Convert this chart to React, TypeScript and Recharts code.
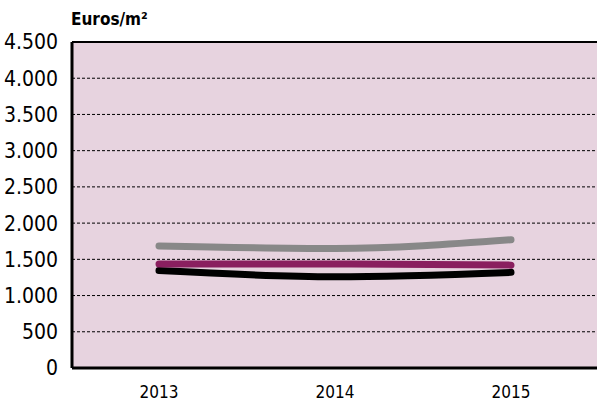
import { CartesianGrid, Line, LineChart, ReferenceLine, XAxis, YAxis } from "recharts";

const years = ["2013", "2014", "2015"];
const grayValues = [1685, 1650, 1770];
const magentaValues = [1435, 1435, 1420];
const blackValues = [1345, 1260, 1320];
const yTicks = [0, 500, 1000, 1500, 2000, 2500, 3000, 3500, 4000, 4500];

const data = years.map((y, i) => ({ year: y, gray: grayValues[i], magenta: magentaValues[i], black: blackValues[i] }));

const font = "'DejaVu Sans Condensed', 'DejaVu Sans', sans-serif";

const fmt = (v: number) => v.toLocaleString("de-DE");

export default function App() {
  return (
    <div
      style={{
        position: "absolute",
        left: 0,
        top: 0,
        width: 597,
        height: 407,
        overflow: "hidden",
        background: "#fff",
        fontFamily: font,
        fontStretch: "condensed",
      }}
    >
      <div style={{ position: "absolute", left: 71, top: 9, fontWeight: 700, fontSize: 17, color: "#000" }}>
        Euros/m²
      </div>
      <LineChart width={600} height={407} data={data} margin={{ top: 42, right: 0, bottom: 0, left: 0 }}>
        <CartesianGrid vertical={false} fill="#e7d3df" stroke="#000" strokeDasharray="3 2" strokeWidth={1} />
        <XAxis
          dataKey="year"
          height={39}
          padding={{ left: 87, right: 89 }}
          tickLine={false}
          axisLine={{ stroke: "#000", strokeWidth: 3 }}
          tick={{ fill: "#000", fontSize: 17 }}
          tickMargin={12}
        />
        <YAxis
          width={72}
          domain={[0, 4500]}
          ticks={yTicks}
          interval={0}
          tickFormatter={fmt}
          tickLine={false}
          axisLine={{ stroke: "#000", strokeWidth: 3 }}
          tick={{ fill: "#000", fontSize: 21 }}
          tickMargin={8}
        />
        <ReferenceLine y={4500} stroke="#000" strokeWidth={2} />
        <Line type="monotone" dataKey="black" stroke="#000000" strokeWidth={7} strokeLinecap="round" dot={false} isAnimationActive={false} />
        <Line type="monotone" dataKey="magenta" stroke="#8a1f5f" strokeWidth={7} strokeLinecap="round" dot={false} isAnimationActive={false} />
        <Line type="monotone" dataKey="gray" stroke="#888888" strokeWidth={7} strokeLinecap="round" dot={false} isAnimationActive={false} />
      </LineChart>
    </div>
  );
}
